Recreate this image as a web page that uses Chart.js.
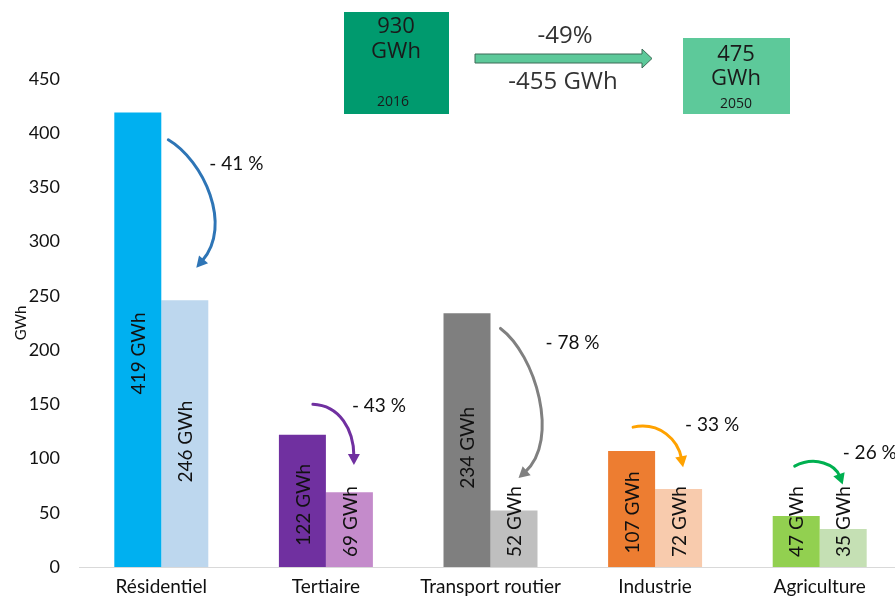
<!DOCTYPE html>
<html>
<head>
<meta charset="utf-8">
<script src="https://cdn.jsdelivr.net/npm/chart.js@4.4.0/dist/chart.umd.min.js"></script>
<style>
  html, body { margin: 0; padding: 0; background: #fff; overflow: hidden; }
  #wrap { width: 902px; height: 597px; position: relative; }
</style>
</head>
<body>
<div id="wrap"><canvas id="cp-chart"></canvas></div>
<script>
// Chart data
const categories = ['Résidentiel', 'Tertiaire', 'Transport routier', 'Industrie', 'Agriculture'];
const values2016 = [419, 122, 234, 107, 47];
const values2050 = [246, 69, 52, 72, 35];
const yTicks = [0, 50, 100, 150, 200, 250, 300, 350, 400, 450];

// totals shown in the boxes on top
const total2016 = '930';
const total2050 = '475';
const totalPct = '-49%';
const totalDiff = '-455 GWh';

const colors2016 = ['#00b0f0', '#7030a0', '#7f7f7f', '#ed7d31', '#92d050'];
const colors2050 = ['#bdd7ee', '#c48bcb', '#bfbfbf', '#f8cbad', '#c5e0b4'];
const arrowColors = ['#2e75b6', '#7030a0', '#808080', '#ffa200', '#00b050'];

// curved arrows: x offset in px from category centre, y in GWh
const arrowShapes = [
	[[7, 394], [42, 375], [72, 315], [35, 276]],
	[[-13, 150], [14, 149], [28, 126], [28, 94]],
	[[10, 220], [45, 196], [70, 117], [28, 82]],
	[[-22, 129], [5, 134], [23, 117], [28, 92]],
	[[-25, 93], [-4, 103], [16, 94], [23, 76]]
];
const pctLabelPos = [[48, 372], [26, 149], [55, 207], [30, 131], [23, 105]];

const chartFont = 'Lato, "Open Sans", sans-serif';
const boxFont = '"Open Sans", "Noto Sans", sans-serif';

function drawArrowHead( ctx, x, y, angle, len, wid, color ) {
	ctx.save();
	ctx.translate( x, y );
	ctx.rotate( angle );
	ctx.fillStyle = color;
	ctx.beginPath();
	ctx.moveTo( 0, 0 );
	ctx.lineTo( -len, -wid / 2 );
	ctx.lineTo( -len, wid / 2 );
	ctx.closePath();
	ctx.fill();
	ctx.restore();
}

const annotations = {
	id: 'annotations',
	afterDatasetsDraw( chart ) {
		const ctx = chart.ctx;
		const xs = chart.scales.x;
		const ys = chart.scales.y;
		const base = ys.getPixelForValue( 0 );

		// labels inside the bars
		ctx.save();
		ctx.fillStyle = '#111';
		ctx.font = '19px ' + chartFont;
		ctx.textAlign = 'center';
		ctx.textBaseline = 'middle';
		[values2016, values2050].forEach( function( vals, d ) {
			const meta = chart.getDatasetMeta( d );
			meta.data.forEach( function( bar, i ) {
				const txt = vals[i] + ' GWh';
				const w = ctx.measureText( txt ).width;
				const h = base - bar.y;
				const cy = Math.min( base - 0.47 * h, base - w / 2 - 10 );
				ctx.save();
				ctx.translate( bar.x, cy );
				ctx.rotate( -Math.PI / 2 );
				ctx.fillText( txt, 0, 1 );
				ctx.restore();
			});
		});
		ctx.restore();

		// curved arrows + percentage
		categories.forEach( function( c, i ) {
			const xc = xs.getPixelForValue( i );
			const p = arrowShapes[i].map( function( pt ) {
				return [ xc + pt[0], ys.getPixelForValue( pt[1] ) ];
			});
			const col = arrowColors[i];
			const headLen = 11;
			const ang = Math.atan2( p[3][1] - p[2][1], p[3][0] - p[2][0] );
			const ex = p[3][0] - Math.cos( ang ) * headLen * 0.8;
			const ey = p[3][1] - Math.sin( ang ) * headLen * 0.8;
			ctx.save();
			ctx.strokeStyle = col;
			ctx.lineWidth = 3;
			ctx.lineCap = 'round';
			ctx.beginPath();
			ctx.moveTo( p[0][0], p[0][1] );
			ctx.bezierCurveTo( p[1][0], p[1][1], p[2][0], p[2][1], ex, ey );
			ctx.stroke();
			ctx.restore();
			drawArrowHead( ctx, p[3][0], p[3][1], ang, headLen, 12, col );

			const pct = Math.round( ( 1 - values2050[i] / values2016[i] ) * 100 );
			ctx.save();
			ctx.fillStyle = '#111';
			ctx.font = '19px ' + chartFont;
			ctx.textAlign = 'left';
			ctx.textBaseline = 'middle';
			ctx.fillText( '- ' + pct + ' %', xc + pctLabelPos[i][0], ys.getPixelForValue( pctLabelPos[i][1] ) );
			ctx.restore();
		});

		// boxes on top
		ctx.save();
		ctx.fillStyle = '#009a6e';
		ctx.fillRect( 344, 12, 105, 102 );
		ctx.fillStyle = '#5dc99a';
		ctx.fillRect( 683, 38, 107, 76 );

		ctx.textAlign = 'center';
		ctx.textBaseline = 'middle';
		ctx.fillStyle = '#1a1a1a';
		ctx.font = '22px ' + boxFont;
		ctx.fillText( total2016, 396, 27 );
		ctx.fillText( 'GWh', 396, 52 );
		ctx.fillText( total2050, 736, 55 );
		ctx.fillText( 'GWh', 736, 79 );
		ctx.font = '14px ' + boxFont;
		ctx.fillText( '2016', 393, 102 );
		ctx.fillText( '2050', 736, 104 );

		// big arrow
		ctx.fillStyle = '#5dc99a';
		ctx.strokeStyle = '#3d6b56';
		ctx.lineWidth = 1;
		ctx.beginPath();
		ctx.moveTo( 475, 54 );
		ctx.lineTo( 642, 54 );
		ctx.lineTo( 642, 49 );
		ctx.lineTo( 652, 58.5 );
		ctx.lineTo( 642, 68 );
		ctx.lineTo( 642, 63 );
		ctx.lineTo( 475, 63 );
		ctx.closePath();
		ctx.fill();
		ctx.stroke();

		ctx.fillStyle = '#333';
		ctx.font = '24px ' + boxFont;
		ctx.fillText( totalPct, 565, 36 );
		ctx.fillText( totalDiff, 563, 82 );
		ctx.restore();
	}
};

let ctx = document.getElementById( 'cp-chart' );
let myChart = new Chart( ctx, {
	type: 'bar',
	data: {
		labels: categories,
		datasets: [
			{ label: '2016', data: values2016, backgroundColor: colors2016 },
			{ label: '2050', data: values2050, backgroundColor: colors2050 }
		]
	},
	options: {
		responsive: true,
		maintainAspectRatio: false,
		animation: false,
		datasets: {
			bar: { categoryPercentage: 0.571, barPercentage: 1.0 }
		},
		layout: { padding: { top: 79, right: 0, bottom: 0, left: 0 } },
		plugins: {
			legend: { display: false },
			tooltip: { enabled: false }
		},
		scales: {
			x: {
				grid: { display: false, drawTicks: false },
				border: { display: true, color: '#d9d9d9', width: 1 },
				ticks: { color: '#111', font: { family: chartFont, size: 19 }, padding: 8, maxRotation: 0 },
				afterFit: function( scale ) { scale.height = 30; }
			},
			y: {
				min: 0,
				max: 450,
				afterBuildTicks: function( scale ) {
					scale.ticks = yTicks.map( function( v ) { return { value: v }; } );
				},
				grid: { display: false, drawTicks: false },
				border: { display: false },
				ticks: { color: '#111', font: { family: chartFont, size: 18 }, padding: 19 },
				title: {
					display: true,
					text: 'GWh',
					color: '#111',
					font: { family: chartFont, size: 15 },
					padding: { top: 12, bottom: 0 }
				},
				afterFit: function( scale ) { scale.width = 79; }
			}
		}
	},
	plugins: [ annotations ]
});
</script>
</body>
</html>
